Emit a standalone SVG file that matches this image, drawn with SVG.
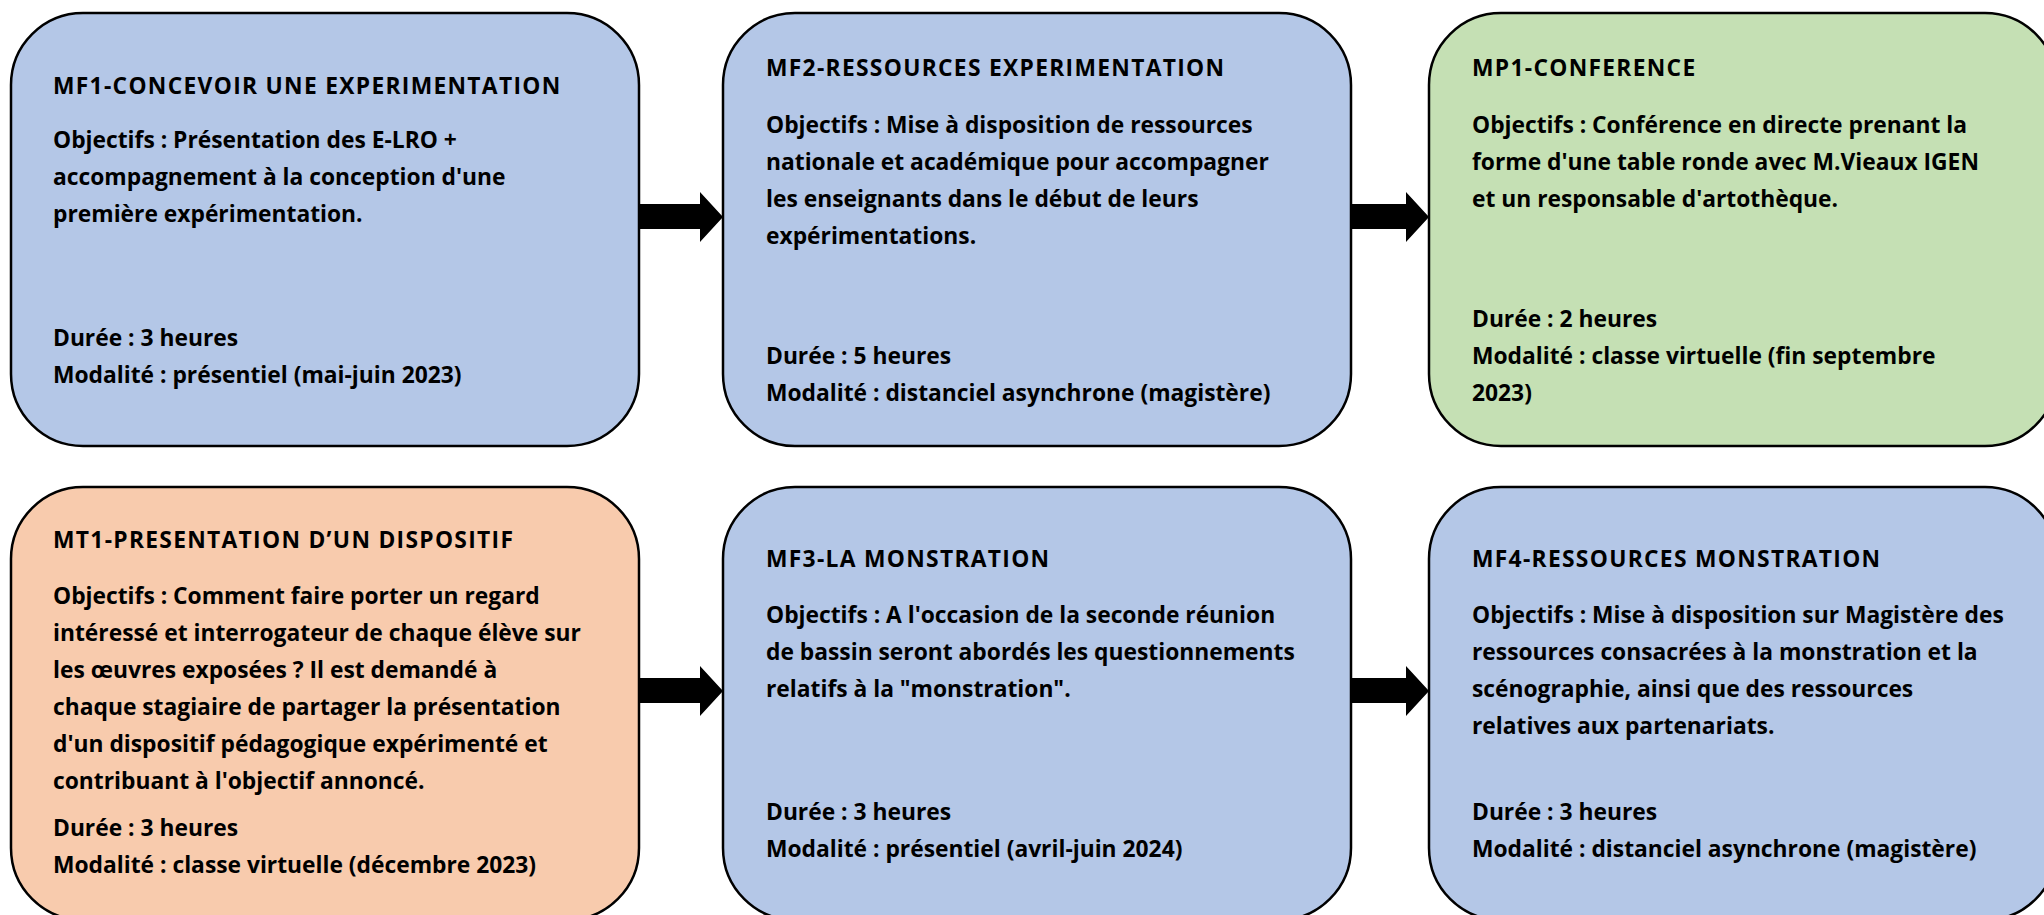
<svg xmlns="http://www.w3.org/2000/svg" width="2044" height="915" viewBox="0 0 2044 915">
<style>
.box{stroke:#000;stroke-width:2.5}
.blue{fill:#B4C7E7}
.green{fill:#C5E0B4}
.orange{fill:#F8CBAD}
text{font-family:"Open Sans","Liberation Sans",sans-serif;font-weight:bold;font-size:22.8px;fill:#000}
.t{letter-spacing:1.3px}
.arrow{fill:#000}
</style>
<rect width="2044" height="915" fill="#fff"/>
<g id="mf1">
<rect class="box blue" x="11" y="13" width="628" height="433" rx="72"/>
<text class="t" x="53" y="94">MF1-CONCEVOIR UNE EXPERIMENTATION</text>
<text x="53" y="148">Objectifs : Présentation des E-LRO +</text>
<text x="53" y="185">accompagnement à la conception d'une</text>
<text x="53" y="222">première expérimentation.</text>
<text x="53" y="346">Durée : 3 heures</text>
<text x="53" y="383">Modalité : présentiel (mai-juin 2023)</text>
</g>
<g id="mf2">
<rect class="box blue" x="723" y="13" width="628" height="433" rx="72"/>
<text class="t" x="766" y="76">MF2-RESSOURCES EXPERIMENTATION</text>
<text x="766" y="133">Objectifs : Mise à disposition de ressources</text>
<text x="766" y="170">nationale et académique pour accompagner</text>
<text x="766" y="207">les enseignants dans le début de leurs</text>
<text x="766" y="244">expérimentations.</text>
<text x="766" y="364">Durée : 5 heures</text>
<text x="766" y="401">Modalité : distanciel asynchrone (magistère)</text>
</g>
<g id="mp1">
<rect class="box green" x="1429" y="13" width="628" height="433" rx="72"/>
<text class="t" x="1472" y="76">MP1-CONFERENCE</text>
<text x="1472" y="133">Objectifs : Conférence en directe prenant la</text>
<text x="1472" y="170">forme d'une table ronde avec M.Vieaux IGEN</text>
<text x="1472" y="207">et un responsable d'artothèque.</text>
<text x="1472" y="327">Durée : 2 heures</text>
<text x="1472" y="364">Modalité : classe virtuelle (fin septembre</text>
<text x="1472" y="401">2023)</text>
</g>
<g id="mt1">
<rect class="box orange" x="11" y="487" width="628" height="433" rx="72"/>
<text class="t" x="53" y="548">MT1-PRESENTATION D’UN DISPOSITIF</text>
<text x="53" y="604">Objectifs : Comment faire porter un regard</text>
<text x="53" y="641">intéressé et interrogateur de chaque élève sur</text>
<text x="53" y="678">les œuvres exposées ? Il est demandé à</text>
<text x="53" y="715">chaque stagiaire de partager la présentation</text>
<text x="53" y="752">d'un dispositif pédagogique expérimenté et</text>
<text x="53" y="789">contribuant à l'objectif annoncé.</text>
<text x="53" y="836">Durée : 3 heures</text>
<text x="53" y="873">Modalité : classe virtuelle (décembre 2023)</text>
</g>
<g id="mf3">
<rect class="box blue" x="723" y="487" width="628" height="433" rx="72"/>
<text class="t" x="766" y="567">MF3-LA MONSTRATION</text>
<text x="766" y="623">Objectifs : A l'occasion de la seconde réunion</text>
<text x="766" y="660">de bassin seront abordés les questionnements</text>
<text x="766" y="697">relatifs à la "monstration".</text>
<text x="766" y="820">Durée : 3 heures</text>
<text x="766" y="857">Modalité : présentiel (avril-juin 2024)</text>
</g>
<g id="mf4">
<rect class="box blue" x="1429" y="487" width="628" height="433" rx="72"/>
<text class="t" x="1472" y="567">MF4-RESSOURCES MONSTRATION</text>
<text x="1472" y="623">Objectifs : Mise à disposition sur Magistère des</text>
<text x="1472" y="660">ressources consacrées à la monstration et la</text>
<text x="1472" y="697">scénographie, ainsi que des ressources</text>
<text x="1472" y="734">relatives aux partenariats.</text>
<text x="1472" y="820">Durée : 3 heures</text>
<text x="1472" y="857">Modalité : distanciel asynchrone (magistère)</text>
</g>
<g id="connectors">
<polygon class="arrow" points="640,204 700,204 700,192 723,217 700,242 700,229 640,229"/>
<polygon class="arrow" points="1352,204 1406,204 1406,192 1429,217 1406,242 1406,229 1352,229"/>
<polygon class="arrow" points="640,678 700,678 700,666 723,691 700,716 700,703 640,703"/>
<polygon class="arrow" points="1352,678 1406,678 1406,666 1429,691 1406,716 1406,703 1352,703"/>
</g>
</svg>
